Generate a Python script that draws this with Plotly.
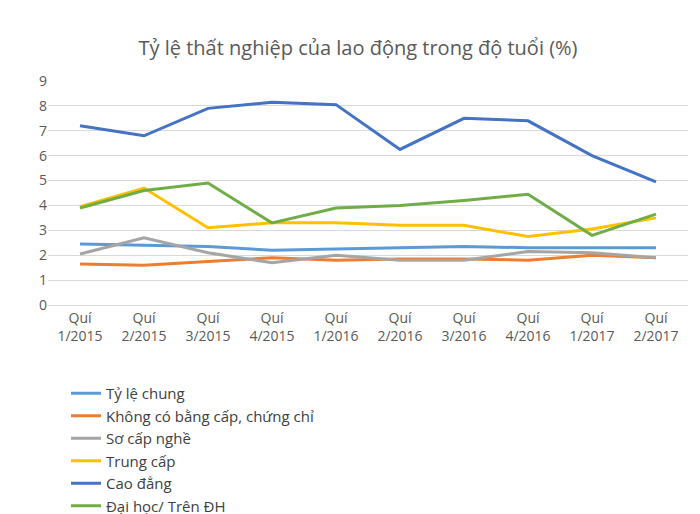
import plotly.graph_objects as go

quarters = ["Quí<br>1/2015", "Quí<br>2/2015", "Quí<br>3/2015", "Quí<br>4/2015", "Quí<br>1/2016",
            "Quí<br>2/2016", "Quí<br>3/2016", "Quí<br>4/2016", "Quí<br>1/2017", "Quí<br>2/2017"]

ty_le_chung = [2.45, 2.4, 2.35, 2.2, 2.25, 2.3, 2.35, 2.3, 2.3, 2.3]
khong_bang = [1.65, 1.6, 1.75, 1.9, 1.8, 1.85, 1.85, 1.8, 2.0, 1.9]
so_cap = [2.05, 2.7, 2.1, 1.7, 2.0, 1.8, 1.8, 2.15, 2.1, 1.9]
trung_cap = [3.95, 4.7, 3.1, 3.3, 3.3, 3.2, 3.2, 2.75, 3.05, 3.5]
cao_dang = [7.2, 6.8, 7.9, 8.15, 8.05, 6.25, 7.5, 7.4, 6.0, 4.95]
dai_hoc = [3.9, 4.6, 4.9, 3.3, 3.9, 4.0, 4.2, 4.45, 2.8, 3.65]

series = [
    ("Tỷ lệ chung", ty_le_chung, "#5B9BD5"),
    ("Không có bằng cấp, chứng chỉ", khong_bang, "#ED7D31"),
    ("Sơ cấp nghề", so_cap, "#A5A5A5"),
    ("Trung cấp", trung_cap, "#FFC000"),
    ("Cao đẳng", cao_dang, "#4472C4"),
    ("Đại học/ Trên ĐH", dai_hoc, "#70AD47"),
]

fig = go.Figure()
for name, vals, color in series:
    fig.add_trace(go.Scatter(x=quarters, y=vals, name=name, mode="lines",
                             line=dict(color=color, width=3)))

fig.update_layout(
    width=700, height=514,
    paper_bgcolor="white", plot_bgcolor="white",
    font=dict(family="Open Sans", size=14, color="#595959"),
    title=dict(text="Tỷ lệ thất nghiệp của lao động trong độ tuổi (%)", x=0.5, y=0.935,
               font=dict(size=20, color="#595959")),
    margin=dict(l=40, r=20, t=73, b=182),
    legend=dict(orientation="h", x=0.07, y=-0.27, xanchor="left", yanchor="top",
                entrywidth=270, tracegroupgap=4, font=dict(size=15, color="#404040")),
    xaxis=dict(showgrid=False, showline=True, linecolor="#D9D9D9", ticks="",
               range=[-0.5, 9.5]),
    yaxis=dict(range=[0, 9], dtick=1, gridcolor="#D9D9D9", zeroline=False),
)

fig.write_html("out.html")
